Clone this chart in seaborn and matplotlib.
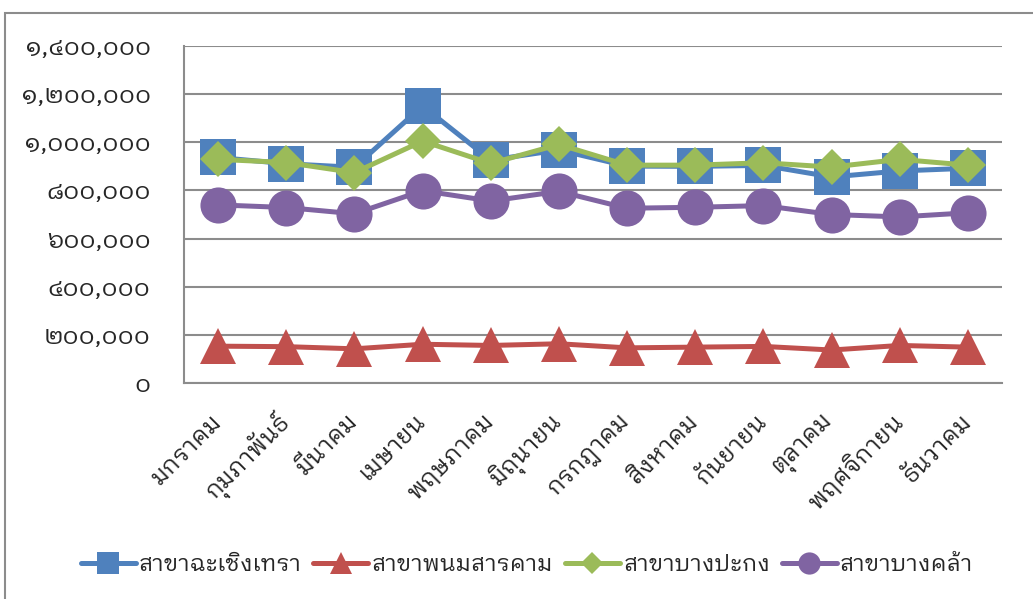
import numpy as np
import pandas as pd
import seaborn as sns
import matplotlib.pyplot as plt
from matplotlib import font_manager
from matplotlib.ft2font import FT2Font
from matplotlib.patches import Rectangle

# monthly figures per branch
months = ['มกราคม', 'กุมภาพันธ์', 'มีนาคม', 'เมษายน', 'พฤษภาคม', 'มิถุนายน',
          'กรกฎาคม', 'สิงหาคม', 'กันยายน', 'ตุลาคม', 'พฤศจิกายน', 'ธันวาคม']
branches = ['สาขาฉะเชิงเทรา', 'สาขาพนมสารคาม', 'สาขาบางปะกง', 'สาขาบางคล้า']
chachoengsao = [937000, 911000, 896000, 1151000, 926000, 968000, 901000, 900000, 904000, 856000, 881000, 892000]
phanom = [153000, 151000, 142000, 161000, 156000, 163000, 146000, 149000, 152000, 137000, 156000, 149000]
bangpakong = [929000, 916000, 874000, 1005000, 912000, 991000, 905000, 905000, 915000, 897000, 929000, 905000]
bangkhla = [740000, 729000, 703000, 799000, 756000, 796000, 726000, 730000, 737000, 700000, 690000, 707000]
yticks = [0, 200000, 400000, 600000, 800000, 1000000, 1200000, 1400000]

colors = ['#4F81BD', '#C0504D', '#9BBB59', '#8064A2']
markers = ['s', '^', 'D', 'o']

# fonts that have Thai glyphs, looped ones first
thai_fonts = set()
for f in font_manager.fontManager.ttflist:
    try:
        if 0x0E01 in FT2Font(f.fname).get_charmap():
            thai_fonts.add(f.name)
    except Exception:
        pass
wanted = ['IBM Plex Sans Thai Looped', 'Noto Sans Thai Looped', 'Sarabun', 'Noto Sans Thai']
thai_font = next((n for n in wanted if n in thai_fonts), sorted(thai_fonts)[0])

sns.set_style('white')
plt.rcParams['font.family'] = [thai_font, 'DejaVu Sans']

thai_digits = str.maketrans('0123456789', '๐๑๒๓๔๕๖๗๘๙')

df = pd.DataFrame({'month': months * 4,
                   'branch': np.repeat(branches, 12),
                   'value': chachoengsao + phanom + bangpakong + bangkhla})
df['x'] = df['month'].map({m: i for i, m in enumerate(months)})

fig = plt.figure(figsize=(10.33, 5.99), dpi=100)
ax = fig.add_axes([184 / 1033, 1 - 383 / 599, (1002 - 184) / 1033, (383 - 46) / 599])

sns.lineplot(data=df, x='x', y='value', hue='branch', style='branch',
             palette=colors, markers=markers, dashes=False, linewidth=3.6,
             markersize=26, markeredgewidth=0, ax=ax, legend=False)
# diamonds are drawn bigger than squares for the same size
for line in ax.lines:
    if line.get_marker() == 'D':
        line.set_markersize(18.5)

ax.set_xlim(-0.5, 11.5)
ax.set_ylim(0, 1400000)
ax.set_yticks(yticks)
ax.set_yticklabels([f'{v:,}'.translate(thai_digits) for v in yticks], fontsize=18)
ax.yaxis.grid(True, color='#8C8C8C', linewidth=1.5)
ax.set_xticks(np.arange(-0.5, 12, 1), minor=True)
ax.set_xticks(range(12))
ax.set_xticklabels(months, rotation=45, ha='right', va='center', rotation_mode='anchor', fontsize=17)
ax.tick_params(axis='x', which='major', length=0, pad=25)
ax.tick_params(axis='x', which='minor', length=10, width=1.5, color='#8C8C8C')
ax.tick_params(axis='y', length=0, pad=24)
ax.set_xlabel('')
ax.set_ylabel('')
for side in ['top', 'right']:
    ax.spines[side].set_visible(False)
for side in ['left', 'bottom']:
    ax.spines[side].set_color('#8C8C8C')
    ax.spines[side].set_linewidth(1.5)

handles = []
for c, m in zip(colors, markers):
    handles.append(plt.Line2D([], [], color=c, marker=m, linewidth=3.6,
                              markersize=11.2 if m == 'D' else 16, markeredgewidth=0))
leg = fig.legend(handles, branches, loc='center', ncol=4, frameon=False, fontsize=16.5,
                 handlelength=2.4, handletextpad=0.15, columnspacing=0.5,
                 bbox_to_anchor=(527 / 1033, 1 - 565 / 599), bbox_transform=fig.transFigure)

fig.patches.append(Rectangle((5 / 1033, -0.1), 1.2, 1 - 13 / 599 + 0.1, transform=fig.transFigure,
                             fill=False, edgecolor='#8C8C8C', linewidth=1.5))

fig.savefig('out.png', dpi=100)
